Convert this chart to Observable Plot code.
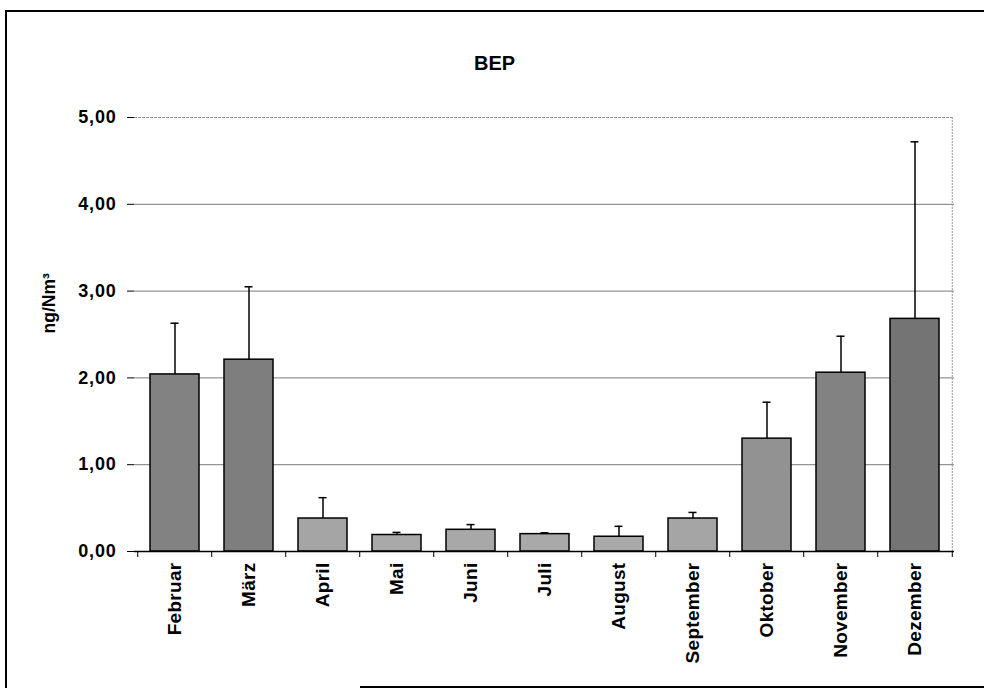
<!DOCTYPE html>
<html>
<head>
<meta charset="utf-8">
<script src="https://cdn.jsdelivr.net/npm/d3@7"></script>
<script src="https://cdn.jsdelivr.net/npm/@observablehq/plot@0.6"></script>
<style>
  html, body { margin: 0; padding: 0; background: #fff; }
  #wrap { position: relative; width: 984px; height: 691px; overflow: hidden; }
  #frame { position: absolute; left: 5px; top: 10px; width: 1000px; height: 676px;
           border-left: 2px solid #000; border-top: 2px solid #000; }
  #bottomline { position: absolute; left: 360px; top: 686px; width: 700px; height: 0;
           border-top: 2px solid #000; }
  svg { font-family: "Liberation Sans", Arial, sans-serif; }
  svg [aria-label="x-axis tick label"] text { font-size: 19px; font-weight: bold; letter-spacing: 0.3px; }
  svg [aria-label="y-axis tick label"] text { font-size: 18px; font-weight: bold; letter-spacing: 0.8px; }
</style>
</head>
<body>
<div id="wrap"><div id="frame"></div><div id="bottomline"></div></div>
<script>
const title = "BEP";
const yLabel = "ng/Nm³";
const months = ["Februar", "März", "April", "Mai", "Juni", "Juli", "August", "September", "Oktober", "November", "Dezember"];
const means  = [2.04, 2.21, 0.38, 0.19, 0.25, 0.20, 0.17, 0.38, 1.30, 2.06, 2.68];
const errors = [0.59, 0.84, 0.24, 0.03, 0.06, 0.015, 0.12, 0.07, 0.42, 0.42, 2.04];
const yTicks = [0, 1, 2, 3, 4, 5];

const data = months.map((m, i) => ({month: m, value: means[i], hi: means[i] + errors[i]}));

const W = 984, H = 691;
const mL = 134, mR = 30, mT = 117, mB = 140;
const plotH = H - mT - mB;
const step = (W - mL - mR) / months.length;
const fmt = d => d.toFixed(2).replace(".", ",");

const chart = Plot.plot({
  width: W,
  height: H,
  marginLeft: mL,
  marginRight: mR,
  marginTop: mT,
  marginBottom: mB,
  style: {background: "transparent", overflow: "visible"},
  x: {domain: months, paddingInner: 0.34, paddingOuter: 0.17, label: null},
  y: {domain: [0, 5], label: null},
  color: {type: "linear", domain: [0, 2.7], range: ["#adadad", "#747474"]},
  marks: [
    // gridlines
    Plot.ruleY(yTicks.filter(d => d > 0 && d < 5), {stroke: "#7a7a7a", strokeWidth: 1}),
    Plot.ruleY([5], {stroke: "#9a9a9a", strokeWidth: 1, strokeDasharray: "3,1"}),
    Plot.ruleX([months[months.length - 1]], {dx: step / 2, stroke: "#9a9a9a", strokeDasharray: "2,1"}),
    // error bars
    Plot.ruleX(data, {x: "month", y1: "value", y2: "hi", stroke: "#000", strokeWidth: 1.5}),
    Plot.tickY(data, {x: "month", y: "hi", stroke: "#000", strokeWidth: 1.5, insetLeft: 20.5, insetRight: 20.5}),
    // bars
    Plot.barY(data, {x: "month", y: "value", fill: "value", stroke: "#000", strokeWidth: 1.5}),
    // axes
    Plot.ruleY([0], {stroke: "#000", strokeWidth: 1.5}),
    Plot.ruleX([0], {frameAnchor: "left", stroke: "#000", strokeWidth: 1.5}),
    Plot.axisY({ticks: yTicks, tickFormat: fmt, tickSize: 7, tickPadding: 11, stroke: "#000", label: null}),
    Plot.axisX({tickSize: 0, tickRotate: -90, tickPadding: 11, label: null}),
    Plot.tickX(months, {x: d => d, dx: -step / 2, stroke: "#000", strokeWidth: 1, insetTop: plotH, insetBottom: -6}),
    Plot.tickX([months[months.length - 1]], {x: d => d, dx: step / 2, stroke: "#000", insetTop: plotH, insetBottom: -6}),
    // title & y label
    Plot.text([title], {frameAnchor: "top", dx: 494 - (mL + (W - mL - mR) / 2), dy: -62, fontSize: 20, fontWeight: "bold", fill: "#000"}),
    Plot.text([yLabel], {frameAnchor: "left", dx: 49 - mL, dy: 333 - (mT + plotH / 2), rotate: -90, fontSize: 17.5, fontWeight: "bold", fill: "#000"})
  ]
});
chart.style.position = "absolute";
chart.style.left = "0px";
chart.style.top = "0px";
document.getElementById("wrap").appendChild(chart);
</script>
</body>
</html>
